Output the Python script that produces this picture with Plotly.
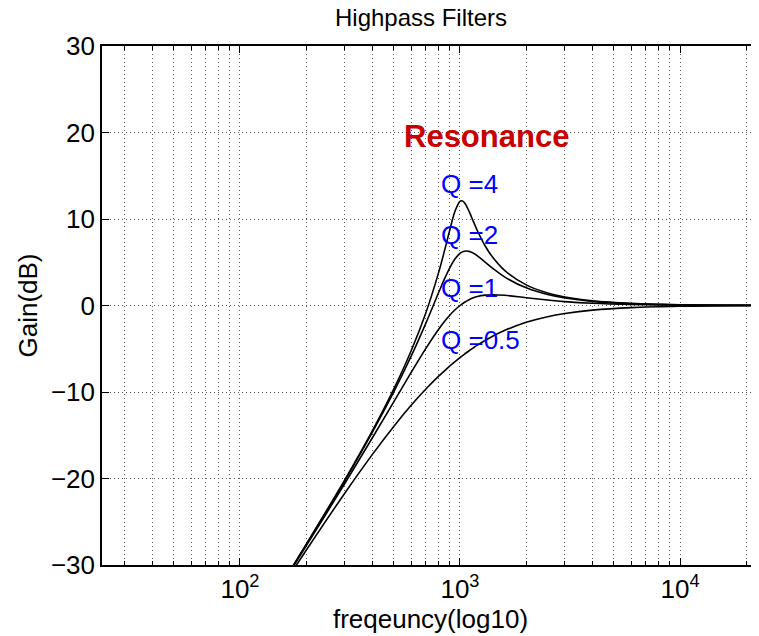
import plotly.graph_objects as go

# ---- data ----
freq_hz = [100, 150, 200, 300, 400, 500, 600, 700, 800, 850, 900, 950, 1000, 1020,
           1050, 1100, 1150, 1200, 1300, 1400, 1600, 2000, 2500, 3000, 4000, 6000,
           10000, 22050]
gain_q05 = [-40.09, -33.15, -28.30, -21.67, -17.21, -13.98, -11.54, -9.66, -8.17, -7.55,
            -6.98, -6.48, -6.02, -5.85, -5.61, -5.23, -4.89, -4.58, -4.04, -3.58, -2.87,
            -1.94, -1.29, -0.92, -0.53, -0.24, -0.09, -0.02]
gain_q1 = [-39.96, -32.86, -27.79, -20.55, -15.29, -11.14, -7.74, -4.95, -2.74, -1.85,
           -1.10, -0.49, 0.00, 0.17, 0.38, 0.67, 0.89, 1.04, 1.20, 1.25, 1.18, 0.90,
           0.63, 0.45, 0.26, 0.12, 0.04, 0.01]
gain_q2 = [-39.92, -32.79, -27.65, -20.21, -14.64, -10.00, -5.86, -2.03, 1.50, 3.07,
           4.39, 5.40, 6.02, 6.17, 6.28, 6.26, 6.05, 5.74, 5.02, 4.35, 3.28, 2.04,
           1.27, 0.87, 0.48, 0.21, 0.08, 0.02]
gain_q4 = [-39.91, -32.77, -27.61, -20.13, -14.46, -9.66, -5.23, -0.83, 3.83, 6.31,
           8.79, 10.92, 12.04, 12.11, 11.85, 10.88, 9.72, 8.64, 6.91, 5.66, 4.02, 2.38,
           1.45, 0.98, 0.54, 0.24, 0.08, 0.02]

label_texts = ["Q =4", "Q =2", "Q =1", "Q =0.5"]
label_y = [14, 8.1, 2, -4]
label_x_log = 2.903

x_tickvals = [100, 1000, 10000]
x_ticktext = ["10<sup>2</sup>", "10<sup>3</sup>", "10<sup>4</sup>"]
y_tickvals = [-30, -20, -10, 0, 10, 20, 30]
y_ticktext = ["\u221230", "\u221220", "\u221210", "0", "10", "20", "30"]

minor_vals = [m * 10 ** d for d in range(1, 5) for m in range(2, 10)]

FONT = "Liberation Sans, Arial, Helvetica, sans-serif"

# layout geometry (the page draws the figure 8px in from the top-left corner)
W, H = 751, 628
ML, MR, MT, MB = 94, 0, 38, 71

fig = go.Figure()
for g in [gain_q05, gain_q1, gain_q2, gain_q4]:
    fig.add_trace(go.Scatter(x=freq_hz, y=g, mode="lines",
                             line=dict(color="black", width=1.6, shape="spline"),
                             showlegend=False, hoverinfo="skip"))

for t, yv in zip(label_texts, label_y):
    fig.add_annotation(x=label_x_log, y=yv, xref="x", yref="y", text=t, showarrow=False,
                       xanchor="left", yanchor="middle",
                       font=dict(family=FONT, size=26, color="#0000ff"))

fig.add_annotation(x=2.736, y=19.5, xref="x", yref="y", text="<b>Resonance</b>",
                   showarrow=False, xanchor="left", yanchor="middle",
                   font=dict(family=FONT, size=31, color="#c80000"))

fig.update_layout(
    width=W, height=H,
    margin=dict(l=ML, r=MR, t=MT, b=MB, autoexpand=False),
    paper_bgcolor="white", plot_bgcolor="white",
    font=dict(family=FONT, size=26, color="black"),
    title=dict(text="Highpass Filters", x=413 / W, y=1 - 10 / H,
               xref="container", yref="container", xanchor="center", yanchor="middle",
               font=dict(family=FONT, size=24, color="black")),
)

GRID = "#555555"
DASH = "1px,3px"

fig.update_xaxes(
    type="log", range=[1.373, 4.359],
    tickvals=x_tickvals, ticktext=x_ticktext,
    ticks="inside", ticklen=7, tickwidth=1, tickcolor="black",
    showline=True, linecolor="black", linewidth=1.6, mirror="ticks",
    showgrid=True, gridcolor=GRID, griddash=DASH, gridwidth=1,
    zeroline=False, automargin=False,
    tickfont=dict(family=FONT, size=26, color="black"),
    title=dict(text="freqeuncy(log10)", font=dict(family=FONT, size=26, color="black"),
               standoff=2),
    minor=dict(tickvals=minor_vals, ticks="inside", ticklen=4, tickcolor="black",
               showgrid=True, gridcolor=GRID, griddash=DASH, gridwidth=1),
)
fig.update_yaxes(
    range=[-30, 30],
    tickvals=y_tickvals, ticktext=y_ticktext,
    ticks="inside", ticklen=7, tickwidth=1, tickcolor="black",
    showline=True, linecolor="black", linewidth=1.6, mirror=False,
    showgrid=True, gridcolor=GRID, griddash=DASH, gridwidth=1,
    zeroline=False, automargin=False,
    tickfont=dict(family=FONT, size=26, color="black"),
    title=dict(text="Gain(dB)", font=dict(family=FONT, size=26, color="black"), standoff=6),
)

fig.write_html("out.html")
